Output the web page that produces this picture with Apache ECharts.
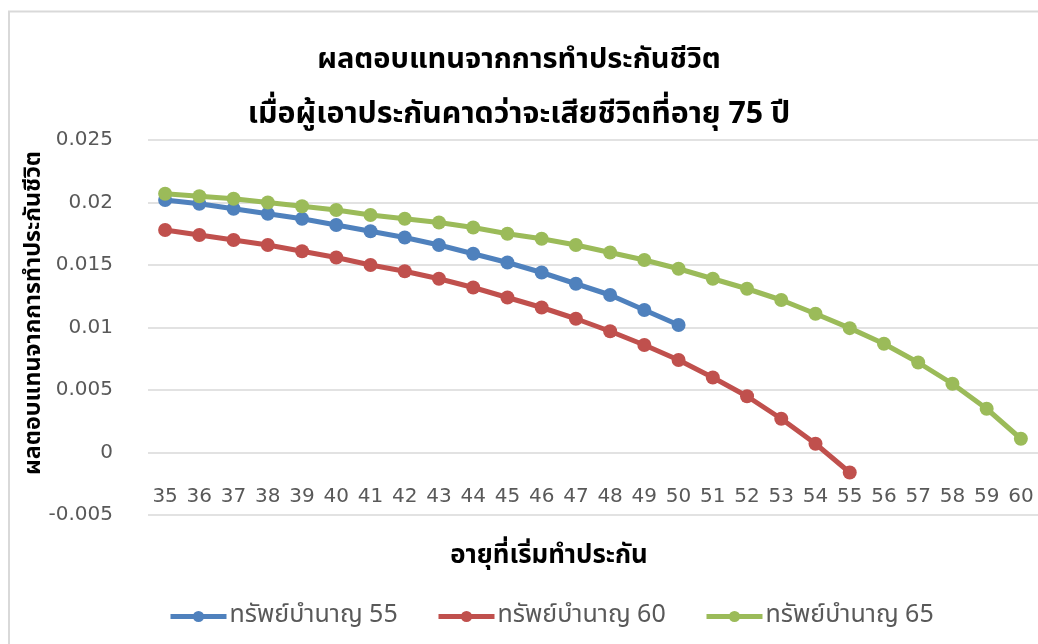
<!DOCTYPE html>
<html>
<head>
<meta charset="utf-8">
<script src="https://cdn.jsdelivr.net/npm/echarts@6/dist/echarts.min.js"></script>
<style>html,body{margin:0;padding:0;background:#fff;}#c{width:1038px;height:644px;}</style>
</head>
<body>
<div id="c"></div>
<script>
const titleLines = ['ผลตอบแทนจากการทำประกันชีวิต', 'เมื่อผู้เอาประกันคาดว่าจะเสียชีวิตที่อายุ 75 ปี'];
const xTitle = 'อายุที่เริ่มทำประกัน';
const yTitle = 'ผลตอบแทนจากการทำประกันชีวิต';
const categories = ['35','36','37','38','39','40','41','42','43','44','45','46','47','48','49','50','51','52','53','54','55','56','57','58','59','60'];
const seriesNames = ['ทรัพย์บำนาญ 55', 'ทรัพย์บำนาญ 60', 'ทรัพย์บำนาญ 65'];
const annuity55 = [0.0202,0.0199,0.0195,0.0191,0.0187,0.0182,0.0177,0.0172,0.0166,0.0159,0.0152,0.0144,0.0135,0.0126,0.0114,0.0102];
const annuity60 = [0.0178,0.0174,0.0170,0.0166,0.0161,0.0156,0.0150,0.0145,0.0139,0.0132,0.0124,0.0116,0.0107,0.0097,0.0086,0.0074,0.0060,0.0045,0.0027,0.0007,-0.0016];
const annuity65 = [0.0207,0.0205,0.0203,0.0200,0.0197,0.0194,0.0190,0.0187,0.0184,0.0180,0.0175,0.0171,0.0166,0.0160,0.0154,0.0147,0.0139,0.0131,0.0122,0.0111,0.00995,0.0087,0.0072,0.0055,0.0035,0.0011];
const colors = ['#4F81BD', '#C0504D', '#9BBB59'];

const NUMFONT = '"DejaVu Sans", "Noto Sans", sans-serif';
const THAIFONT = '"Noto Sans Thai", "Noto Sans Thai UI", "Noto Sans", "Open Sans", sans-serif';
const chart = echarts.init(document.getElementById('c'), null, {renderer: 'canvas'});
const dataSets = [annuity55, annuity60, annuity65];
const legendLefts = [163, 431, 699];
chart.setOption({
  animation: false,
  backgroundColor: '#fff',
  color: colors,
  textStyle: {fontFamily: THAIFONT},
  title: [
    {text: titleLines[0], left: 'center', top: 43, textStyle: {fontSize: 29, fontWeight: 'bold', color: '#000', fontFamily: THAIFONT}},
    {text: titleLines[1], left: 'center', top: 97, textStyle: {fontSize: 30.3, fontWeight: 'bold', color: '#000', fontFamily: THAIFONT}}
  ],
  graphic: [
    {type: 'rect', shape: {x: 9, y: 11.5, width: 1100, height: 700}, style: {fill: 'none', stroke: '#d9d9d9', lineWidth: 2}, silent: true, z: -1},
    {type: 'text', x: 35, y: 313, rotation: Math.PI / 2, style: {text: yTitle, fontSize: 23.3, fontWeight: 'bold', fill: '#000', fontFamily: THAIFONT, align: 'center', verticalAlign: 'middle'}},
    {type: 'text', x: 549, y: 558, style: {text: xTitle, fontSize: 25.8, fontWeight: 'bold', fill: '#000', fontFamily: THAIFONT, align: 'center', verticalAlign: 'middle'}}
  ],
  legend: seriesNames.map((n, i) => ({
    left: legendLefts[i], top: 599,
    itemWidth: 56, itemHeight: 14,
    lineStyle: {width: 5},
    textStyle: {fontSize: 25, color: '#595959', fontFamily: THAIFONT, padding: [0, 0, 0, -2]},
    data: [n]
  })),
  grid: {left: 148, top: 140, width: 891, height: 375, containLabel: false},
  xAxis: {
    type: 'category', data: categories, boundaryGap: true,
    axisLine: {show: false, onZero: false},
    axisTick: {show: false},
    axisLabel: {margin: -28, fontSize: 20, color: '#595959', fontFamily: NUMFONT, interval: 0}
  },
  yAxis: {
    type: 'value', min: -0.005, max: 0.025, interval: 0.005,
    axisLine: {show: false}, axisTick: {show: false},
    splitLine: {lineStyle: {color: '#d9d9d9', width: 1.5}},
    axisLabel: {margin: 35, fontSize: 20, color: '#595959', fontFamily: NUMFONT}
  },
  series: dataSets.map((d, i) => ({
    name: seriesNames[i], type: 'line', data: d,
    symbol: 'circle', symbolSize: 14,
    lineStyle: {width: 5, color: colors[i]},
    itemStyle: {color: colors[i]},
    clip: false
  }))
});
</script>
</body>
</html>
